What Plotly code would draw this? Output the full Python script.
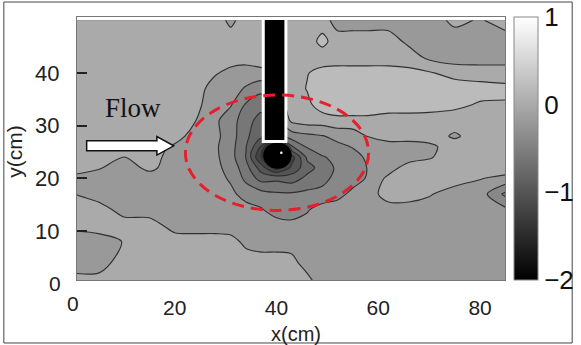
import plotly.graph_objects as go

# Measurement grid (cm)
x_cm = [0, 5, 10, 15, 20, 24, 28, 31, 34, 37, 40, 43, 46, 49, 52, 55, 58, 62, 66, 70, 75, 80, 85]
y_cm = [0, 4, 8, 11, 14, 17, 20, 22, 24, 26, 28, 31, 34, 37, 40, 43, 46, 50]

# Measured values, one row per y position (bottom to top)
z_y00 = [0.0, 0.0, 0.0, 0.0, 0.0, 0.0, 0.0, 0.0, 0.0, 0.0, 0.0, 0.0, 0.0, -0.2, -0.2, -0.2, -0.2, -0.2, -0.2, -0.2, -0.2, -0.2, -0.2]
z_y04 = [-0.2, -0.2, 0.0, 0.0, 0.0, 0.0, 0.0, 0.0, 0.0, 0.0, 0.0, -0.03, -0.2, -0.2, -0.2, -0.2, -0.2, -0.2, -0.2, -0.2, -0.2, -0.2, -0.2]
z_y08 = [-0.2, -0.2, -0.09, 0.0, 0.0, 0.0, 0.0, -0.03, -0.15, -0.2, -0.2, -0.2, -0.2, -0.2, -0.2, -0.2, -0.2, -0.2, -0.2, -0.2, -0.2, -0.2, -0.2]
z_y11 = [-0.05, 0.0, 0.0, 0.0, -0.18, -0.2, -0.2, -0.2, -0.2, -0.2, -0.2, -0.24, -0.22, -0.2, -0.2, -0.2, -0.2, -0.2, -0.2, -0.2, -0.2, -0.2, -0.2]
z_y14 = [0.0, 0.0, -0.18, -0.2, -0.2, -0.2, -0.2, -0.2, -0.22, -0.28, -0.4, -0.4, -0.32, -0.2, -0.2, -0.2, -0.2, -0.2, -0.2, -0.2, -0.2, -0.2, -0.25]
z_y17 = [-0.09, -0.2, -0.2, -0.2, -0.2, -0.2, -0.2, -0.25, -0.38, -0.42, -0.47, -0.47, -0.45, -0.45, -0.36, -0.25, -0.2, 0.0, 0.0, -0.08, -0.2, -0.2, -0.55]
z_y20 = [-0.15, -0.2, -0.2, -0.2, -0.2, -0.2, -0.22, -0.33, -0.55, -0.78, -0.75, -0.8, -0.65, -0.55, -0.45, -0.38, -0.28, -0.05, 0.0, 0.0, 0.0, -0.09, -0.15]
z_y22 = [0.0, -0.08, -0.2, -0.05, -0.2, -0.2, -0.25, -0.37, -0.62, -1.0, -1.4, -1.05, -0.78, -0.62, -0.46, -0.4, -0.29, -0.2, 0.0, 0.0, 0.0, 0.0, 0.0]
z_y24 = [0.0, 0.0, -0.11, 0.0, -0.2, -0.2, -0.26, -0.42, -0.71, -1.32, -2.0, -1.2, -0.66, -0.52, -0.44, -0.36, -0.27, -0.2, -0.2, -0.12, 0.0, 0.0, 0.0]
z_y26 = [0.0, 0.0, 0.0, 0.0, -0.14, -0.2, -0.27, -0.42, -0.69, -1.12, -2.0, -0.72, -0.48, -0.38, -0.34, -0.29, -0.22, -0.2, -0.2, -0.15, 0.0, 0.0, 0.0]
z_y28 = [0.0, 0.0, 0.0, 0.0, 0.0, -0.2, -0.25, -0.4, -0.66, -0.85, -0.6, -0.4, -0.35, -0.31, -0.25, -0.22, -0.09, 0.0, 0.0, 0.0, -0.13, 0.0, 0.0]
z_y31 = [0.0, 0.0, 0.0, 0.0, 0.0, -0.09, -0.26, -0.42, -0.6, -0.8, -0.4, -0.05, 0.0, 0.0, 0.05, 0.05, 0.05, 0.0, 0.0, 0.0, 0.0, 0.0, 0.0]
z_y34 = [0.0, 0.0, 0.0, 0.0, 0.0, -0.05, -0.2, -0.28, -0.52, -0.6, -0.25, 0.0, 0.05, 0.2, 0.22, 0.22, 0.22, 0.22, 0.22, 0.2, 0.15, 0.08, 0.08]
z_y37 = [0.0, 0.0, 0.0, 0.0, 0.0, 0.0, -0.2, -0.22, -0.32, -0.45, -0.2, 0.0, 0.11, 0.25, 0.25, 0.25, 0.25, 0.25, 0.25, 0.25, 0.22, 0.18, 0.15]
z_y40 = [0.0, 0.0, 0.0, 0.0, 0.0, 0.0, -0.08, -0.16, -0.2, -0.15, -0.12, 0.0, 0.09, 0.16, 0.18, 0.18, 0.18, 0.18, 0.15, 0.12, 0.02, 0.0, 0.0]
z_y43 = [0.0, 0.0, 0.0, 0.0, 0.0, 0.0, 0.0, 0.0, 0.0, 0.0, 0.0, 0.0, 0.0, 0.0, 0.0, 0.0, 0.0, 0.0, 0.0, -0.15, -0.2, -0.2, -0.2]
z_y46 = [0.0, 0.0, 0.0, 0.0, 0.0, 0.0, 0.0, 0.0, 0.0, 0.0, 0.0, 0.0, 0.0, 0.16, 0.0, 0.0, 0.0, 0.0, -0.15, -0.2, -0.2, -0.2, -0.2]
z_y50 = [0.0, 0.0, 0.0, 0.0, 0.0, 0.0, 0.0, -0.15, 0.0, 0.0, 0.0, 0.0, 0.0, 0.0, -0.2, -0.2, -0.2, -0.2, -0.2, -0.2, -0.05, -0.12, 0.0]

z_rows = [z_y00, z_y04, z_y08, z_y11, z_y14, z_y17, z_y20, z_y22, z_y24,
          z_y26, z_y28, z_y31, z_y34, z_y37, z_y40, z_y43, z_y46, z_y50]

cbar_ticks = [-2, -1, 0, 1]
x_ticks = [20, 40, 60, 80]
y_ticks = [10, 20, 30, 40]

gray = [[0.0, "#000000"], [1.0, "#ffffff"]]
sans = "Liberation Sans, Arial, sans-serif"

fig = go.Figure()

fig.add_trace(go.Contour(
    x=x_cm, y=y_cm, z=z_rows,
    colorscale=gray, zmin=-2, zmax=1,
    autocontour=False,
    contours=dict(start=-1.9, end=0.9, size=0.2, coloring="fill"),
    line=dict(color="#303030", width=1.15, smoothing=0.85),
    showscale=False, hoverinfo="skip",
))

# continuous grey scale bar
fig.add_trace(go.Scatter(
    x=[-100, -100], y=[-100, -100], mode="markers",
    marker=dict(color=[-2, 1], cmin=-2, cmax=1, colorscale=gray, showscale=True,
                colorbar=dict(x=1.0208, xanchor="left", xpad=0, y=0.5, yanchor="middle",
                              len=1, lenmode="fraction", ypad=0, thickness=24,
                              outlinecolor="#888888", outlinewidth=1,
                              tickvals=cbar_ticks, ticks="",
                              tickfont=dict(family=sans, size=26, color="#111111"))),
    hoverinfo="skip", showlegend=False,
))

shapes = [
    # cylinder head
    dict(type="circle", xref="x", yref="y", x0=37.4, x1=43.0, y0=21.8, y1=26.8,
         fillcolor="#000000", line=dict(color="#000000", width=0)),
    # highlight on the cylinder head
    dict(type="circle", xref="x", yref="y", x0=40.7, x1=41.2, y0=24.6, y1=25.1,
         fillcolor="#ffffff", line=dict(color="#ffffff", width=0)),
    # vertical rod
    dict(type="rect", xref="x", yref="y", x0=37.4, x1=41.85, y0=27.0, y1=50.3,
         fillcolor="#000000", line=dict(color="#ffffff", width=3)),
    # scour region outline
    dict(type="circle", xref="x", yref="y", x0=22.1, x1=58.1, y0=13.9, y1=35.8,
         fillcolor="rgba(0,0,0,0)", line=dict(color="#e3202b", width=3, dash="12px,7px")),
    # flow arrow
    dict(type="path", xref="x", yref="y",
         path="M 2.7,25.2 L 16.5,25.2 L 16.5,24.4 L 19.8,26.15 L 16.5,27.9 L 16.5,27.1 L 2.7,27.1 Z",
         fillcolor="#ffffff", line=dict(color="#111111", width=1.5)),
    # outer frame
    dict(type="rect", xref="paper", yref="paper", x0=-0.1709, x1=1.157, y0=-0.2395, y1=1.057,
         fillcolor="rgba(0,0,0,0)", line=dict(color="#444444", width=1)),
]

annotations = [
    dict(text="Flow", xref="x", yref="y", x=11.8, y=33.3, showarrow=False,
         font=dict(family="Liberation Serif, Times New Roman, serif", size=27, color="#111111")),
    dict(text="0", xref="paper", yref="paper", x=-0.0092, y=-0.0875, showarrow=False,
         xanchor="center", yanchor="middle", font=dict(family=sans, size=21, color="#222222")),
    dict(text="0", xref="paper", yref="paper", x=-0.0323, y=-0.0152, showarrow=False,
         xanchor="right", yanchor="middle", font=dict(family=sans, size=21, color="#222222")),
    dict(text="x(cm)", xref="paper", yref="paper", x=0.5127, y=-0.2055, showarrow=False,
         xanchor="center", yanchor="middle", font=dict(family=sans, size=20, color="#222222")),
    dict(text="y(cm)", xref="paper", yref="paper", x=-0.1455, y=0.4867, showarrow=False,
         textangle=-90, xanchor="center", yanchor="middle",
         font=dict(family=sans, size=21, color="#222222")),
]

fig.update_layout(
    width=581, height=345,
    margin=dict(l=77, r=71, t=17, b=65),
    paper_bgcolor="#ffffff", plot_bgcolor="#ffffff",
    showlegend=False, hovermode=False,
    shapes=shapes, annotations=annotations,
    xaxis=dict(range=[0.8, 84.9], tickvals=x_ticks, ticks="", showgrid=False, zeroline=False,
               showline=True, mirror=True, linecolor="#777777", linewidth=1,
               ticklabelstandoff=9,
               tickfont=dict(family=sans, size=21, color="#222222")),
    yaxis=dict(range=[0.7, 50.6], tickvals=y_ticks, ticks="inside", ticklen=10, tickwidth=1.5,
               tickcolor="#222222", showgrid=False, zeroline=False,
               showline=True, mirror=True, linecolor="#777777", linewidth=1,
               ticklabelstandoff=12,
               tickfont=dict(family=sans, size=22, color="#222222")),
)

fig.write_html("out.html")
